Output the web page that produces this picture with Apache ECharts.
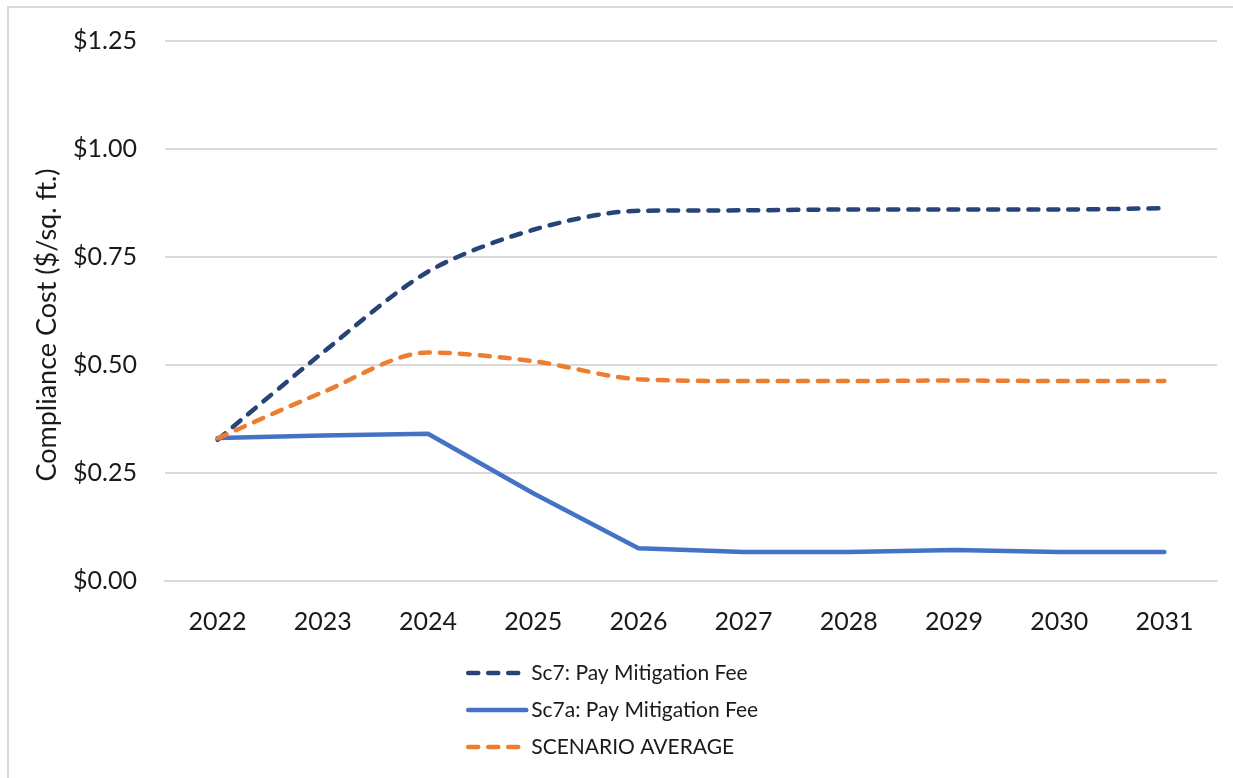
<!DOCTYPE html>
<html>
<head>
<meta charset="utf-8">
<script src="https://cdn.jsdelivr.net/npm/echarts@6/dist/echarts.min.js"></script>
<style>
  html, body { margin: 0; padding: 0; background: #fff; }
  .frame {
    position: absolute; left: 7px; top: 6px; right: 0; bottom: 0;
    border-left: 2px solid #d9d9d9; border-top: 2px solid #d9d9d9;
  }
  #chart { position: absolute; left: 0; top: 0; width: 1233px; height: 778px; }
</style>
</head>
<body>
<div class="frame"></div>
<div id="chart"></div>
<script>
const years = ['2022', '2023', '2024', '2025', '2026', '2027', '2028', '2029', '2030', '2031']
const sc7 = [0.327, 0.529, 0.716, 0.813, 0.857, 0.858, 0.860, 0.860, 0.860, 0.863]
const sc7a = [0.331, 0.337, 0.341, 0.203, 0.076, 0.067, 0.067, 0.072, 0.067, 0.067]
const scenarioAvg = [0.330, 0.437, 0.529, 0.509, 0.467, 0.463, 0.463, 0.464, 0.463, 0.463]
const seriesNames = ['Sc7: Pay Mitigation Fee', 'Sc7a: Pay Mitigation Fee', 'SCENARIO AVERAGE']

const font = 'Lato, "Open Sans", sans-serif'
const textColor = '#1a1a1a'

const chart = echarts.init(document.getElementById('chart'))

const dashed = (color) => ({
  color: color,
  width: 4.5,
  type: [10, 10],
  cap: 'round'
})

chart.setOption({
  animation: false,
  grid: {
    left: 165,
    right: 16,
    top: 41,
    bottom: 197
  },
  xAxis: {
    type: 'category',
    data: years,
    boundaryGap: true,
    axisTick: { show: false },
    axisLine: { show: true, lineStyle: { color: '#d9d9d9', width: 2 } },
    axisLabel: {
      color: textColor,
      fontFamily: font,
      fontSize: 25,
      margin: 28
    }
  },
  yAxis: {
    type: 'value',
    min: 0,
    max: 1.25,
    interval: 0.25,
    name: 'Compliance Cost ($/sq. ft.)',
    nameLocation: 'middle',
    nameRotate: 90,
    nameGap: 104,
    nameTextStyle: {
      color: textColor,
      fontFamily: font,
      fontSize: 27,
      padding: [0, 28, 0, 0]
    },
    axisTick: { show: false },
    axisLine: { show: false },
    axisLabel: {
      color: textColor,
      fontFamily: font,
      fontSize: 25,
      margin: 28,
      formatter: (v) => '$' + v.toFixed(2)
    },
    splitLine: {
      show: true,
      lineStyle: { color: '#d9d9d9', width: 2 }
    }
  },
  legend: {
    data: seriesNames,
    orient: 'vertical',
    left: 461,
    top: 657,
    itemWidth: 58,
    itemHeight: 14,
    itemGap: 15,
    itemStyle: { opacity: 0 },
    lineStyle: { width: 4.5, cap: 'round' },
    textStyle: {
      color: textColor,
      fontFamily: font,
      fontSize: 21,
      lineHeight: 22
    }
  },
  series: [
    {
      name: seriesNames[0],
      type: 'line',
      data: sc7,
      smooth: 0.3,
      symbol: 'none',
      color: '#264478',
      lineStyle: dashed('#264478')
    },
    {
      name: seriesNames[1],
      type: 'line',
      data: sc7a,
      smooth: false,
      symbol: 'none',
      color: '#4472c4',
      lineStyle: { color: '#4472c4', width: 4.5, cap: 'round' }
    },
    {
      name: seriesNames[2],
      type: 'line',
      data: scenarioAvg,
      smooth: 0.3,
      symbol: 'none',
      color: '#ed7d31',
      lineStyle: dashed('#ed7d31')
    }
  ]
})
</script>
</body>
</html>
